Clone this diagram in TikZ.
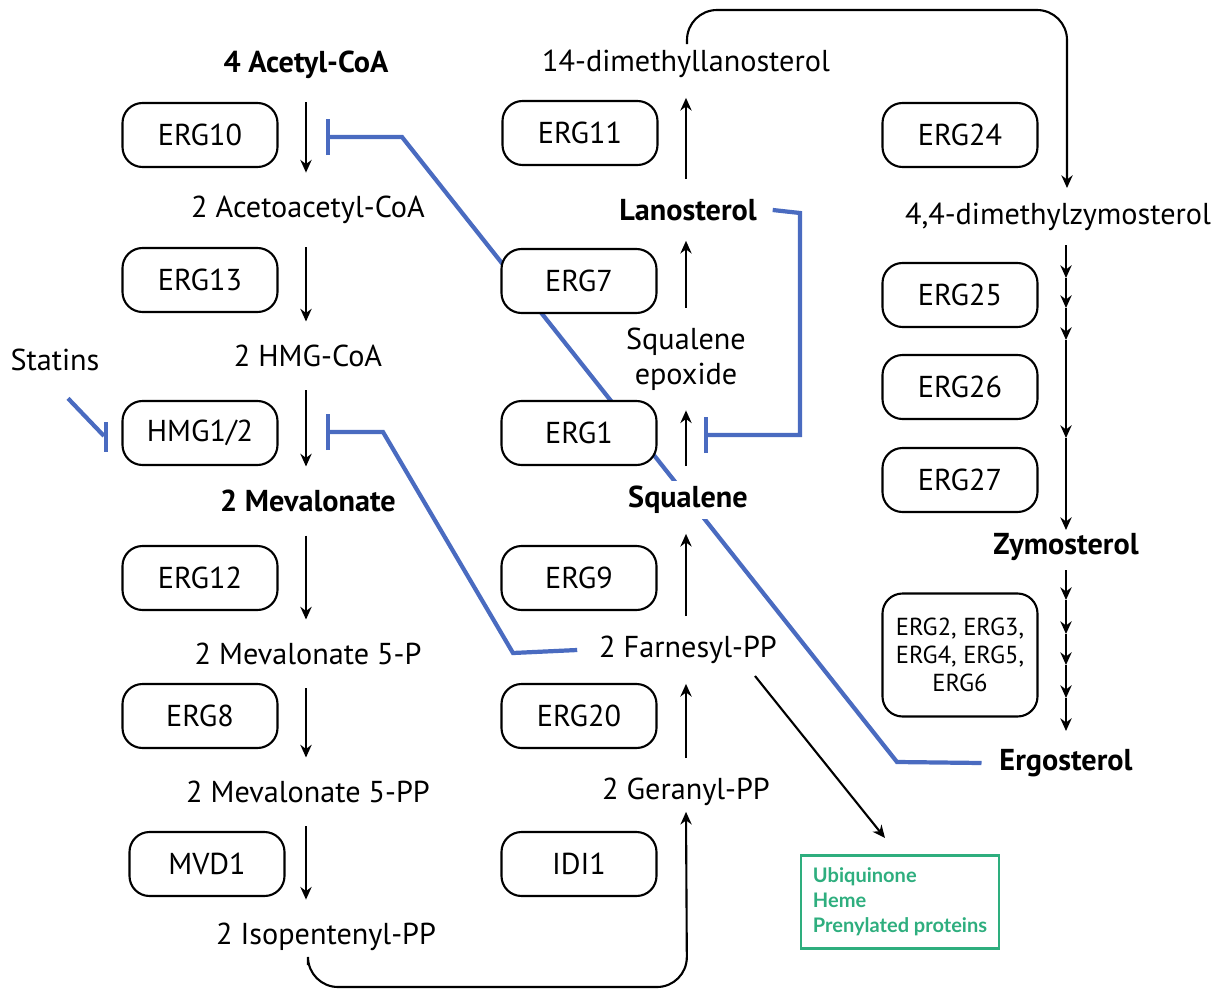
\documentclass[tikz,border=0pt]{standalone}
\usepackage{fontspec}
\setmainfont{PT Sans}
\newfontfamily\latofont{Lato}
\usetikzlibrary{arrows.meta,backgrounds}
\definecolor{inhblue}{HTML}{4A6BC0}
\definecolor{prodgreen}{HTML}{2EAE7E}
\tikzset{
 enz/.style={draw,line width=0.6pt,rounded corners=0.2cm,fill=white,
  minimum width=1.55cm,minimum height=0.64cm,inner sep=1pt},
 met/.style={fill=white,inner sep=1.5pt},
 key/.style={met,font=\bfseries\fontsize{8.6}{10}\selectfont},
 flow/.style={-{Stealth[length=3.6pt,width=3.2pt]},line width=0.6pt},
 inh/.style={inhblue,line width=1.2pt,-{Bar[width=0.36cm]}},
 inhline/.style={inhblue,line width=1.2pt}}

\begin{document}
\begin{tikzpicture}[x=0.1mm,y=-0.1mm,font=\fontsize{8.6}{10}\selectfont]
\useasboundingbox (0,0) rectangle (1228,989);
% metabolites, left column
\node[key] (acoa) at (306,65) {4 Acetyl-CoA};
\node[met] (aacoa) at (308,210) {2 Acetoacetyl-CoA};
\node[met] (hmgcoa) at (308,356) {2 HMG-CoA};
\node[key] (mev) at (308,501) {2 Mevalonate};
\node[met] (mevp) at (308,654) {2 Mevalonate 5-P};
\node[met] (mevpp) at (308,792) {2 Mevalonate 5-PP};
\node[met] (ipp) at (326,937) {2 Isopentenyl-PP};
% metabolites, middle column
\node[met] (gpp) at (686,792) {2 Geranyl-PP};
\node[met] (fpp) at (688,650) {2 Farnesyl-PP};
\node[key] (sq) at (688,500) {Squalene};
\node[met,align=center] (sqep) at (686,359) {Squalene\\epoxide};
\node[key] (lan) at (688,210) {Lanosterol};
\node[met] (dml) at (686,64) {14-dimethyllanosterol};
% metabolites, right column
\node[met] (dmz) at (1058,217) {4,4-dimethylzymosterol};
\node[key] (zym) at (1066,547) {Zymosterol};
\node[key] (erg) at (1066,763) {Ergosterol};
\node (statins) at (55,360) {Statins};
% enzymes
\foreach \n/\x/\y/\t in {erg10/200/135/ERG10,erg13/200/280/ERG13,hmg/200/433/HMG1\slash 2,
  erg12/200/578/ERG12,erg8/200/716/ERG8,mvd/207/864/MVD1,
  erg11/580/133/ERG11,erg7/579/281/ERG7,erg1/579/433/ERG1,
  erg9/579/578/ERG9,erg20/579/716/ERG20,idi/579/864/IDI1,
  erg24/960/135/ERG24,erg25/960/295/ERG25,erg26/960/387/ERG26,erg27/960/480/ERG27}
 \node[enz] (\n) at (\x,\y) {\t};
\node[enz,minimum height=1.23cm,align=center,font=\fontsize{7}{8}\selectfont]
 (erglate) at (960,655) {ERG2, ERG3,\\ERG4, ERG5,\\ERG6};
\node[draw=prodgreen,line width=0.6pt,minimum width=1.97cm,minimum height=0.93cm,
 text=prodgreen,align=left,font=\latofont\bfseries\fontsize{5.7}{7.1}\selectfont]
 (prod) at (900,902) {Ubiquinone\\Heme\\Prenylated proteins};
% main pathway
\foreach \a/\b in {acoa/aacoa,aacoa/hmgcoa,hmgcoa/mev,mev/mevp,mevp/mevpp,mevpp/ipp}
 \draw[flow,shorten <=5pt,shorten >=5pt] (acoa |- \a.south) -- (acoa |- \b.north);
\foreach \a/\b in {gpp/fpp,fpp/sq,sq/sqep,sqep/lan,lan/dml}
 \draw[flow,shorten <=4pt,shorten >=4pt] (dml |- \a.north) -- (dml |- \b.south);
\draw[flow,rounded corners=0.3cm] (308,965) -- (308,987) -- (687,987) -- (dml |- gpp.south);
\draw[flow,rounded corners=0.3cm] (dml.north) ++(1,0) -- (687,10) -- (1067,10) -- (1067,188);
\draw[flow] (755,676) -- (885,838);
% late steps
\foreach \ya/\yb in {245/278,278/308,308/340,340/438,438/530,570/600,600/634,634/665,665/698,698/731}
 \draw[flow] (1066,\ya) -- (1066,\yb);
% feedback
\begin{scope}[on background layer]
 \draw[inh] (erg.west) ++(-12,0) -- (897,762) -- (402,137) -- (326,137);
 \draw[inh] (fpp.west) ++(-16,0) -- (513,653) -- (383,432) -- (326,432);
 \draw[inh] (lan.east) ++(10,0) -- (800,213) -- (800,435) -- (704,435);
 \draw[inhline] (statins.south) ++(13,15) -- (104,436);
 \draw[inhline] (106,422) -- (106,452);
\end{scope}
\end{tikzpicture}
\end{document}
